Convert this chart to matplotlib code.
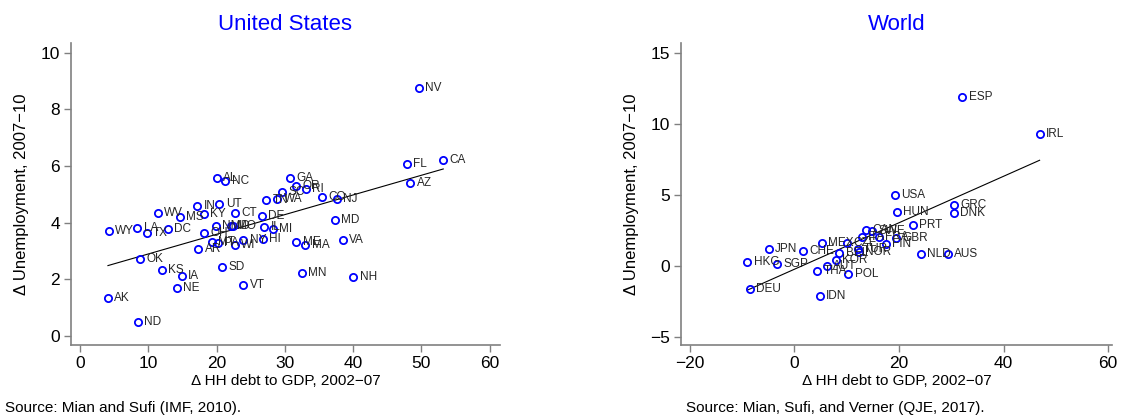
import matplotlib
matplotlib.use('Agg')
import matplotlib.pyplot as plt
import numpy as np

plt.rcParams['font.family'] = ['Liberation Sans', 'DejaVu Sans']

# United States: change in household debt to GDP 2002-07 vs change in unemployment 2007-10
us_states = ['WY', 'LA', 'TX', 'DC', 'WV', 'MS', 'IN', 'KY', 'UT', 'CT', 'DE', 'AL', 'NC',
             'OH', 'NM', 'MO', 'ID', 'IL', 'MI', 'NY', 'HI', 'MT', 'PA', 'WI', 'AR', 'OK',
             'KS', 'IA', 'NE', 'AK', 'ND', 'SD', 'VT', 'GA', 'OR', 'RI', 'SC', 'TN', 'WA',
             'CO', 'NJ', 'MD', 'VA', 'ME', 'MA', 'MN', 'NH', 'FL', 'CA', 'AZ', 'NV']
us_debt = [4.2, 8.4, 9.8, 12.9, 11.4, 14.6, 17.2, 18.1, 20.4, 22.7, 26.6, 20.0, 21.3,
           18.2, 19.9, 22.1, 22.4, 27.0, 28.2, 23.9, 26.8, 19.3, 20.2, 22.7, 17.3, 8.8,
           12.0, 14.9, 14.2, 4.1, 8.5, 20.8, 23.9, 30.7, 31.6, 33.1, 29.6, 27.3, 28.9,
           35.5, 37.6, 37.3, 38.5, 31.7, 33.0, 32.5, 40.0, 47.9, 53.2, 48.4, 49.6]
us_unemp = [3.70, 3.83, 3.63, 3.79, 4.36, 4.19, 4.59, 4.30, 4.67, 4.34, 4.25, 5.57, 5.49,
            3.65, 3.89, 3.89, 3.89, 3.86, 3.77, 3.39, 3.44, 3.33, 3.28, 3.22, 3.08, 2.71,
            2.32, 2.10, 1.69, 1.35, 0.48, 2.43, 1.79, 5.59, 5.31, 5.20, 5.07, 4.80, 4.83,
            4.90, 4.83, 4.10, 3.39, 3.32, 3.20, 2.22, 2.08, 6.08, 6.23, 5.41, 8.76]
# fitted line (intercept, slope) as drawn in the source chart
us_fit = (2.20, 0.0695)

# World
world_countries = ['ESP', 'IRL', 'USA', 'HUN', 'GRC', 'DNK', 'PRT', 'HKG', 'SGP', 'JPN',
                   'CHE', 'MEX', 'DEU', 'IDN', 'THA', 'AUT', 'POL', 'KOR', 'BEL', 'CZE',
                   'TUR', 'NOR', 'ITA', 'CAN', 'SWE', 'FRA', 'FIN', 'GBR', 'NLD', 'AUS']
world_debt = [32.1, 46.9, 19.2, 19.6, 30.6, 30.5, 22.7, -9.0, -3.4, -4.9,
              1.7, 5.2, -8.5, 4.8, 4.4, 6.2, 10.3, 7.9, 8.6, 10.0,
              12.1, 12.3, 12.9, 13.6, 14.8, 16.1, 17.5, 19.4, 24.2, 29.3]
world_unemp = [11.88, 9.27, 5.00, 3.78, 4.27, 3.75, 2.87, 0.28, 0.16, 1.20,
               1.08, 1.64, -1.62, -2.13, -0.33, 0.00, -0.56, 0.42, 0.89, 1.64,
               1.18, 0.96, 2.02, 2.54, 2.46, 2.06, 1.55, 1.95, 0.85, 0.85]
world_fit = (-0.227, 0.1635)


def panel(ax, names, x, y, fit, title, xlim, ylim, xticks, yticks):
    x = np.array(x)
    y = np.array(y)
    ax.plot(x, y, 'o', mfc='none', mec='#0000ff', ms=5.2, mew=1.3, zorder=3)
    for n, xi, yi in zip(names, x, y):
        ax.annotate(n, (xi, yi), xytext=(4.6, 0), textcoords='offset points',
                    va='center', ha='left', fontsize=8.5, color='#262626')
    icpt, slope = fit
    xs = np.array([x.min(), x.max()])
    ax.plot(xs, icpt + slope * xs, color='black', lw=0.8, zorder=2)

    ax.set_xlim(xlim)
    ax.set_ylim(ylim)
    ax.set_xticks(xticks)
    ax.set_yticks(yticks)
    for s in ['top', 'right']:
        ax.spines[s].set_visible(False)
    for s in ['left', 'bottom']:
        ax.spines[s].set_color('#808080')
        ax.spines[s].set_linewidth(1.2)
    ax.tick_params(direction='out', length=5, width=1, color='#808080',
                   labelsize=12.5, pad=3)
    ax.set_title(title, color='#0000ff', fontsize=16, pad=9)
    ax.set_ylabel('\u0394 Unemployment, 2007\u221210', fontsize=12, labelpad=8)
    ax.set_xlabel('\u0394 HH debt to GDP, 2002\u221207', fontsize=11, labelpad=2)


fig = plt.figure(figsize=(11.26, 4.19), dpi=100)
ax1 = fig.add_axes([0.063, 0.1766, 0.381, 0.721])
ax2 = fig.add_axes([0.6048, 0.1766, 0.383, 0.721])

panel(ax1, us_states, us_debt, us_unemp, us_fit, 'United States',
      (-1.32, 61.5), (-0.32, 10.35), range(0, 61, 10), range(0, 11, 2))
panel(ax2, world_countries, world_debt, world_unemp, world_fit, 'World',
      (-21.7, 60.8), (-5.56, 15.7), range(-20, 61, 20), range(-5, 16, 5))

fig.text(5 / 1126, 1 - 408 / 419, 'Source: Mian and Sufi (IMF, 2010).',
         fontsize=11, va='center', ha='left')
fig.text(686 / 1126, 1 - 408 / 419, 'Source: Mian, Sufi, and Verner (QJE, 2017).',
         fontsize=11, va='center', ha='left')

fig.savefig('out.png', dpi=100)
